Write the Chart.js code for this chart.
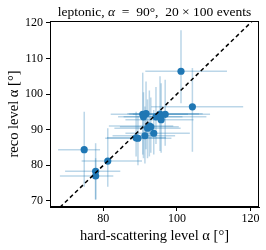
<!DOCTYPE html>
<html>
<head>
<meta charset="utf-8">
<script src="https://cdn.jsdelivr.net/npm/chart.js@4.4.1/dist/chart.umd.min.js"></script>
<style>
  html, body { margin: 0; padding: 0; background: #fff; }
  #wrap { width: 266px; height: 250px; }
</style>
</head>
<body>
<div id="wrap"><canvas id="c" width="266" height="250"></canvas></div>
<script>
// hard-scattering level alpha (x) vs reco level alpha (y), with asymmetric spreads
const hsAlpha = [101.1, 104.2, 74.8, 81.2, 77.9, 77.9, 90.7, 91.6, 90.9, 94.3, 95.4, 95.7, 96.8, 92.0, 92.9, 92.5, 91.3, 93.7, 88.9, 89.4];
const recoAlpha = [106.4, 96.4, 84.4, 81.2, 78.3, 77.0, 94.3, 94.5, 93.6, 93.6, 94.4, 92.8, 94.3, 90.4, 90.8, 91.0, 88.3, 89.0, 87.7, 87.6];
const hsLow  = [91.4, 93.0, 67.7, 74.1, 69.6, 68.2, 82.0, 86.5, 84.0, 85.5, 87.0, 86.0, 88.0, 83.0, 84.5, 81.5, 82.5, 86.0, 81.0, 80.5];
const hsHigh = [113.6, 118.0, 79.1, 90.5, 84.6, 82.7, 103.0, 107.0, 101.5, 108.0, 106.0, 104.5, 109.0, 101.0, 100.5, 99.0, 99.5, 103.5, 97.0, 98.5];
const recoLow  = [97.4, 83.8, 74.0, 74.0, 70.3, 70.5, 83.0, 84.5, 82.0, 86.0, 84.0, 83.5, 85.5, 82.0, 83.5, 82.5, 80.5, 83.0, 82.5, 80.0];
const recoHigh = [117.9, 107.3, 95.0, 90.4, 86.2, 82.0, 106.0, 103.5, 100.5, 102.0, 105.0, 103.0, 104.0, 98.5, 99.0, 101.0, 96.5, 95.5, 95.0, 94.0];

const xTicks = [80, 100, 120];
const yTicks = [70, 80, 90, 100, 110, 120];
const xRange = [65.5, 122.3];
const yRange = [68.3, 120.5];

const blue = '#1f77b4';
const barColor = 'rgba(31, 119, 180, 0.3)';
const serif = '"Liberation Serif", "DejaVu Serif", serif';

const datasets = [];

// diagonal y = x
datasets.push({
  type: 'line',
  data: [{ x: 60, y: 60 }, { x: 125, y: 125 }],
  borderColor: '#000',
  borderWidth: 1.5,
  borderDash: [4, 3],
  pointRadius: 0,
  order: 0
});

datasets.push({
  type: 'scatter',
  data: hsAlpha.map((v, i) => ({ x: v, y: recoAlpha[i] })),
  backgroundColor: blue,
  borderWidth: 0,
  pointRadius: 3.6,
  order: 1
});

// error bars, one small line each so the overlaps get darker like matplotlib
hsAlpha.forEach((v, i) => {
  datasets.push({
    type: 'line',
    data: [{ x: hsLow[i], y: recoAlpha[i] }, { x: hsHigh[i], y: recoAlpha[i] }],
    borderColor: barColor, borderWidth: 1.5, pointRadius: 0, order: 2
  });
  datasets.push({
    type: 'line',
    data: [{ x: v, y: recoLow[i] }, { x: v, y: recoHigh[i] }],
    borderColor: barColor, borderWidth: 1.5, pointRadius: 0, order: 2
  });
});

// box round the plot and the title with an italic alpha
const frame = {
  id: 'frame',
  afterDraw(chart) {
    const { ctx, chartArea: a } = chart;
    ctx.save();
    ctx.strokeStyle = '#000';
    ctx.lineWidth = 1;
    ctx.strokeRect(a.left + 0.5, a.top + 0.5, a.right - a.left - 1, a.bottom - a.top - 1);

    const parts = [
      ['leptonic, ', '13.5px ' + serif],
      ['α', 'italic 13.5px ' + serif],
      ['  =  90°,  20 × 100 events', '13.5px ' + serif]
    ];
    let w = 0;
    parts.forEach(p => { ctx.font = p[1]; w += ctx.measureText(p[0]).width; });
    let x = (a.left + a.right) / 2 - w / 2;
    ctx.fillStyle = '#000';
    ctx.textBaseline = 'alphabetic';
    parts.forEach(p => {
      ctx.font = p[1];
      ctx.fillText(p[0], x, 15.5);
      x += ctx.measureText(p[0]).width;
    });
    ctx.restore();
  }
};

new Chart(document.getElementById('c'), {
  type: 'scatter',
  data: { datasets },
  options: {
    responsive: false,
    animation: false,
    events: [],
    layout: { padding: { top: 21, right: 7, left: 0, bottom: 0 } },
    plugins: { legend: { display: false }, tooltip: { enabled: false } },
    scales: {
      x: {
        type: 'linear',
        min: xRange[0], max: xRange[1],
        afterBuildTicks: s => { s.ticks = xTicks.map(v => ({ value: v })); },
        afterFit: s => { s.height = 43; },
        grid: { display: true, drawOnChartArea: false, drawTicks: true, tickLength: 4, color: '#000' },
        border: { display: true, color: '#000' },
        ticks: { color: '#000', padding: 1, maxRotation: 0, font: { family: serif, size: 12 } },
        title: { display: true, text: 'hard-scattering level α [°]', color: '#000', padding: { top: 0, bottom: 5.5 }, font: { family: serif, size: 14.5 } }
      },
      y: {
        type: 'linear',
        min: yRange[0], max: yRange[1],
        afterBuildTicks: s => { s.ticks = yTicks.map(v => ({ value: v })); },
        afterFit: s => { s.width = 50; },
        grid: { display: true, drawOnChartArea: false, drawTicks: true, tickLength: 4, color: '#000' },
        border: { display: true, color: '#000' },
        ticks: { color: '#000', padding: 3, font: { family: serif, size: 12 } },
        title: { display: true, text: 'reco level α [°]', color: '#000', padding: { top: 5, bottom: 0 }, font: { family: serif, size: 14.5 } }
      }
    }
  },
  plugins: [frame]
});
</script>
</body>
</html>
